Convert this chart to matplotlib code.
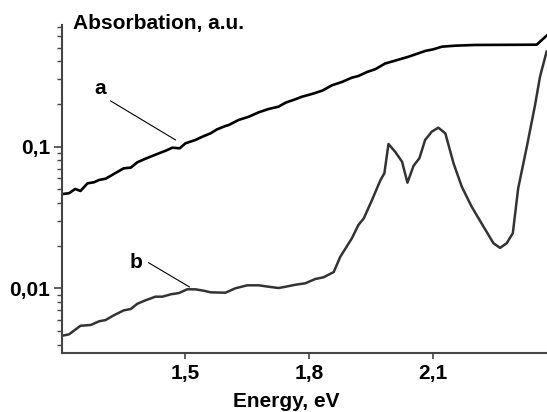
import matplotlib
matplotlib.use("Agg")
import matplotlib.pyplot as plt
from matplotlib.ticker import FixedLocator, FixedFormatter, LogLocator, NullFormatter

plt.rcParams['font.family'] = ['Liberation Sans', 'DejaVu Sans']
plt.rcParams['font.weight'] = 'bold'

# curve a (upper)
energy_a = [1.201, 1.217, 1.232, 1.245, 1.262, 1.278, 1.290, 1.306, 1.326, 1.350,
            1.367, 1.383, 1.403, 1.427, 1.452, 1.468, 1.486, 1.500, 1.524, 1.541,
            1.561, 1.577, 1.597, 1.605, 1.629, 1.654, 1.678, 1.702, 1.726, 1.743,
            1.767, 1.783, 1.807, 1.832, 1.856, 1.880, 1.904, 1.920, 1.941, 1.961,
            1.985, 2.009, 2.042, 2.082, 2.102, 2.123, 2.155, 2.203, 2.353, 2.377]
absorb_a = [0.0463, 0.0469, 0.0503, 0.0487, 0.0551, 0.0561, 0.0582, 0.0594, 0.0642, 0.0704,
            0.0711, 0.0776, 0.0823, 0.0878, 0.0937, 0.0984, 0.0974, 0.1057, 0.1115, 0.1176,
            0.1243, 0.1327, 0.140, 0.1422, 0.1544, 0.1629, 0.1749, 0.1846, 0.1916, 0.2045,
            0.2162, 0.2254, 0.2356, 0.2486, 0.2715, 0.2864, 0.3071, 0.3157, 0.3369, 0.3526,
            0.3869, 0.4049, 0.4321, 0.4739, 0.4873, 0.5083, 0.5167, 0.5226, 0.5251, 0.6078]

# curve b (lower)
energy_b = [1.201, 1.217, 1.245, 1.270, 1.290, 1.306, 1.326, 1.350, 1.367, 1.383,
            1.403, 1.427, 1.444, 1.464, 1.484, 1.504, 1.524, 1.544, 1.561, 1.597,
            1.621, 1.650, 1.678, 1.702, 1.726, 1.743, 1.767, 1.791, 1.815, 1.835,
            1.860, 1.876, 1.904, 1.920, 1.933, 1.953, 1.973, 1.983, 1.993, 2.009,
            2.026, 2.039, 2.054, 2.068, 2.082, 2.098, 2.114, 2.131, 2.151, 2.171,
            2.195, 2.224, 2.248, 2.264, 2.280, 2.295, 2.308, 2.329, 2.349, 2.361, 2.377]
absorb_b = [0.00463, 0.00473, 0.00544, 0.00551, 0.00585, 0.00597, 0.00645, 0.00699, 0.00714, 0.00778,
            0.00823, 0.00873, 0.00873, 0.00907, 0.00926, 0.00984, 0.00984, 0.00962, 0.00937, 0.00931,
            0.0100, 0.0105, 0.0105, 0.01026, 0.01005, 0.01026, 0.0106, 0.01085, 0.01163, 0.01196,
            0.01303, 0.0167, 0.02254, 0.0280, 0.0312, 0.0420, 0.0577, 0.0649, 0.1045, 0.0922,
            0.0783, 0.0557, 0.0734, 0.0828, 0.1115, 0.1276, 0.1362, 0.1243, 0.0763, 0.0522,
            0.0377, 0.0272, 0.0208, 0.0193, 0.0208, 0.0245, 0.0508, 0.100, 0.197, 0.312, 0.469]

x_ticks = [1.5, 1.8, 2.1]
x_labels = ['1,5', '1,8', '2,1']
y_ticks = [0.01, 0.1]
y_labels = ['0,01', '0,1']

fig = plt.figure(figsize=(5.47, 4.12), dpi=100)
ax = fig.add_axes([0.1133, 0.1439, 0.8867, 0.7954])

ax.plot(energy_a, absorb_a, color='black', lw=1.9, solid_joinstyle='round')
ax.plot(energy_b, absorb_b, color='#333333', lw=1.8, solid_joinstyle='round')

ax.set_yscale('log')
ax.set_xlim(1.2, 2.378)
ax.set_ylim(0.00351, 0.723)

ax.xaxis.set_major_locator(FixedLocator(x_ticks))
ax.xaxis.set_major_formatter(FixedFormatter(x_labels))
ax.yaxis.set_major_locator(FixedLocator(y_ticks))
ax.yaxis.set_major_formatter(FixedFormatter(y_labels))
ax.yaxis.set_minor_locator(LogLocator(base=10, subs=range(2, 10)))
ax.yaxis.set_minor_formatter(NullFormatter())

for side in ['top', 'right']:
    ax.spines[side].set_visible(False)
for side in ['left', 'bottom']:
    ax.spines[side].set_color('#444444')
    ax.spines[side].set_linewidth(1.5)

ax.tick_params(axis='both', which='major', direction='out', color='#444444',
               labelsize=15, width=1.2)
ax.tick_params(axis='y', which='major', length=6, pad=2.5)
ax.tick_params(axis='y', which='minor', length=3.5, width=1.0, color='#444444')
ax.tick_params(axis='x', which='major', length=4, pad=4)

ax.annotate('a', xy=(1.476, 0.1115), xytext=(1.294, 0.2556), fontsize=15,
            ha='center', va='center',
            arrowprops=dict(arrowstyle='-', color='black', lw=0.8, relpos=(1, 0),
                            shrinkA=1, shrinkB=0))
ax.annotate('b', xy=(1.510, 0.01021), xytext=(1.379, 0.01517), fontsize=15,
            ha='center', va='center',
            arrowprops=dict(arrowstyle='-', color='black', lw=0.8, relpos=(1, 0.7),
                            shrinkA=3, shrinkB=0))

fig.text(0.1335, 0.9296, 'Absorbation, a.u.', fontsize=15, ha='left', va='baseline')
fig.text(0.524, 0.0129, 'Energy, eV', fontsize=15, ha='center', va='baseline')

fig.savefig('out.png', dpi=100)
